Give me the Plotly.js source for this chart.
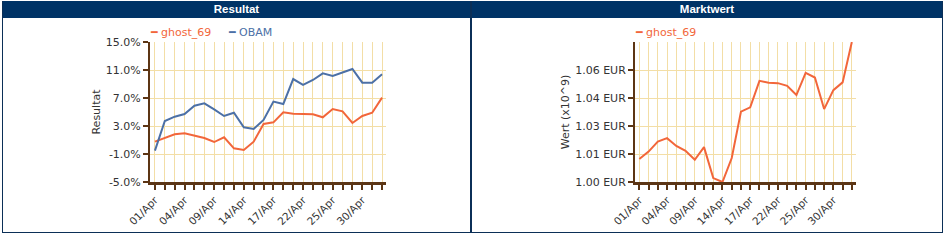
<!DOCTYPE html>
<html>
<head>
<meta charset="utf-8">
<script src="https://cdn.plot.ly/plotly-3.0.1.min.js"></script>
<style>
  html, body { margin: 0; padding: 0; background: #ffffff; width: 943px; height: 242px; overflow: hidden; }
  .panel { position: absolute; top: 1px; height: 231px; border: 1px solid #0b2f57; border-top: none; background: #fff; }
  .hdr { position: absolute; left: 0; right: 0; top: 0; height: 17px; background: #003366; color: #fff;
         font: bold 11.5px "Liberation Sans", Arial, sans-serif; text-align: center; line-height: 17px; }
  .chart { position: absolute; left: 0; top: 0; width: 943px; height: 242px; }
</style>
</head>
<body>
<div class="panel" style="left:2px; width:467px;"><div class="hdr">Resultat</div></div>
<div class="panel" style="left:470px; width:470px; border-left: 2px solid #0b2f57;"><div class="hdr">Marktwert</div></div>
<div id="c1" class="chart"></div>
<div id="c2" class="chart"></div>
<script>
// ---- data ----
const dates = ['01/Apr','02/Apr','03/Apr','04/Apr','07/Apr','08/Apr','09/Apr','10/Apr','11/Apr','14/Apr','15/Apr','16/Apr','17/Apr','18/Apr','21/Apr','22/Apr','23/Apr','24/Apr','25/Apr','28/Apr','29/Apr','30/Apr','01/May','02/May'];
const ghostResult = [0.76,1.24,1.81,1.95,1.57,1.29,0.71,1.38,-0.19,-0.43,0.76,3.29,3.52,4.95,4.76,4.76,4.67,4.24,5.43,5.10,3.43,4.43,4.90,7.05];
const obamResult  = [-0.52,3.71,4.33,4.71,5.90,6.24,5.38,4.43,4.90,2.81,2.57,3.86,6.48,6.14,9.71,8.86,9.57,10.52,10.14,10.67,11.14,9.19,9.19,10.38];
const ghostValue  = [1.0118,1.0156,1.0207,1.0225,1.0185,1.0160,1.0114,1.0179,1.0020,1.0000,1.0123,1.0361,1.0383,1.0519,1.0509,1.0507,1.0493,1.0446,1.0560,1.0536,1.0374,1.0471,1.0511,1.0718];
const resultTicks = [-5,-1,3,7,11,15];
const seriesNames = ['ghost_69','OBAM'];

// ---- style ----
const ORANGE = '#f2663a', BLUE = '#4c70a6', GRID = '#f3dea6', AXIS = '#5c3514', TXT = '#333333';
const FONT = '"DejaVu Sans", Verdana, sans-serif';

const xTickText = dates.map((d, i) => (i % 3 === 0 ? d : ''));

function baseX(range) {
  return {
    type: 'category', range: range, tickvals: dates, ticktext: xTickText, tickangle: -45,
    showgrid: true, gridcolor: GRID, gridwidth: 1,
    showline: true, linecolor: AXIS, linewidth: 3,
    ticks: 'outside', ticklen: 5, tickwidth: 2, tickcolor: AXIS,
    tickfont: { family: FONT, size: 10.5, color: TXT }, fixedrange: true, automargin: false
  };
}
function baseY() {
  return {
    showgrid: true, gridcolor: GRID, gridwidth: 1, zeroline: false,
    showline: true, linecolor: AXIS, linewidth: 2,
    ticks: 'outside', ticklen: 5, tickwidth: 2, tickcolor: AXIS,
    tickfont: { family: FONT, size: 11, color: TXT }, fixedrange: true, automargin: false
  };
}
function legendAnn(x, name, color) {
  return { xref: 'paper', yref: 'paper', x: x, y: 1, yanchor: 'bottom', xanchor: 'left', yshift: 1,
           showarrow: false, align: 'left',
           text: '<span style="color:' + color + '">━ ' + name + '</span>',
           font: { family: FONT, size: 11, color: color } };
}

// ---- chart 1: Resultat ----
const y1 = baseY();
Object.assign(y1, {
  range: [-5, 15], tickvals: resultTicks, ticktext: resultTicks.map(v => v.toFixed(1) + '%'),
  title: { text: 'Resultat', font: { family: FONT, size: 11, color: TXT }, standoff: 3 }
});
Plotly.newPlot('c1', [
  { x: dates, y: ghostResult, name: seriesNames[0], type: 'scatter', mode: 'lines', line: { color: ORANGE, width: 2 } },
  { x: dates, y: obamResult, name: seriesNames[1], type: 'scatter', mode: 'lines', line: { color: BLUE, width: 2 } }
], {
  width: 943, height: 242, margin: { l: 150, r: 557, t: 42, b: 60, pad: 0 },
  paper_bgcolor: 'rgba(0,0,0,0)', plot_bgcolor: '#ffffff', showlegend: false,
  font: { family: FONT, size: 11, color: TXT },
  xaxis: baseX([-0.5, 23.4]), yaxis: y1,
  annotations: [legendAnn(-0.01, seriesNames[0], ORANGE), legendAnn(0.32, seriesNames[1], BLUE)]
}, { staticPlot: true });

// ---- chart 2: Marktwert ----
const vMin = Math.min(...ghostValue), vMax = Math.max(...ghostValue);
const vStep = (vMax - vMin) / 5;
const vTicks = [0, 1, 2, 3, 4].map(k => vMin + k * vStep);
const y2 = baseY();
Object.assign(y2, {
  range: [vMin, vMax], tickvals: vTicks, ticktext: vTicks.map(v => v.toFixed(2) + ' EUR'),
  title: { text: 'Wert (x10^9)', font: { family: FONT, size: 11, color: TXT }, standoff: 3 }
});
Plotly.newPlot('c2', [
  { x: dates, y: ghostValue, name: seriesNames[0], type: 'scatter', mode: 'lines', line: { color: ORANGE, width: 2 } }
], {
  width: 943, height: 242, margin: { l: 635, r: 87, t: 42, b: 60, pad: 0 },
  paper_bgcolor: 'rgba(0,0,0,0)', plot_bgcolor: '#ffffff', showlegend: false,
  font: { family: FONT, size: 11, color: TXT },
  xaxis: baseX([-0.47, 23.45]), yaxis: y2,
  annotations: [legendAnn(-0.01, seriesNames[0], ORANGE)]
}, { staticPlot: true });
</script>
</body>
</html>
